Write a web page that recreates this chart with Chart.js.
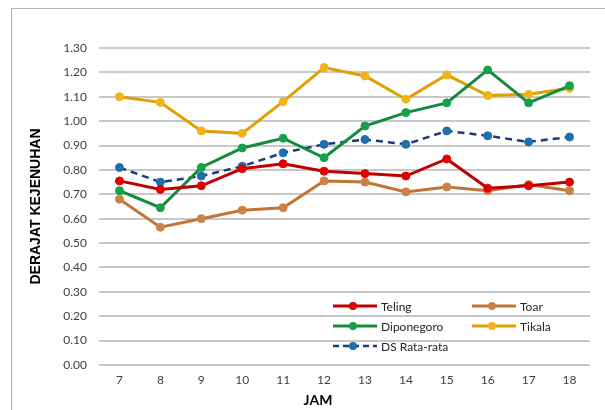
<!DOCTYPE html>
<html>
<head>
<meta charset="utf-8">
<script src="https://cdn.jsdelivr.net/npm/chart.js@4.4.1/dist/chart.umd.min.js"></script>
<style>
  html, body { margin: 0; padding: 0; background: #fff; }
  #frame { position: absolute; left: 11px; top: 8px; width: 600px; height: 420px;
           border-left: 1px solid #b4b4b4; border-top: 1px solid #b4b4b4; }
  #wrap { position: absolute; left: 0; top: 0; width: 605px; height: 410px; }
</style>
</head>
<body>
<div id="frame"></div>
<div id="wrap"><canvas id="chart" width="605" height="410"></canvas></div>
<script>
const jam = ['7', '8', '9', '10', '11', '12', '13', '14', '15', '16', '17', '18'];
const teling = [0.755, 0.72, 0.735, 0.805, 0.825, 0.795, 0.785, 0.775, 0.845, 0.725, 0.735, 0.75];
const toar = [0.68, 0.565, 0.60, 0.635, 0.645, 0.755, 0.75, 0.71, 0.73, 0.715, 0.74, 0.715];
const diponegoro = [0.715, 0.645, 0.81, 0.89, 0.93, 0.85, 0.98, 1.035, 1.075, 1.21, 1.075, 1.145];
const tikala = [1.10, 1.077, 0.96, 0.95, 1.08, 1.22, 1.185, 1.09, 1.19, 1.105, 1.11, 1.135];
const dsRata = [0.81, 0.75, 0.775, 0.815, 0.87, 0.905, 0.925, 0.905, 0.96, 0.94, 0.915, 0.935];

const TICK_FONT = { family: 'Lato, "Open Sans", sans-serif', size: 12 };

function series(label, data, line, dot, dash) {
  return {
    label: label,
    data: data,
    borderColor: line,
    backgroundColor: dot,
    pointBackgroundColor: dot,
    pointBorderColor: dot,
    pointRadius: 4,
    pointBorderWidth: 1,
    borderWidth: dash ? 2.5 : 3,
    borderDash: dash || [],
    tension: 0,
    fill: false
  };
}

// legend drawn inside the plot, two columns like the original
const insideLegend = {
  id: 'insideLegend',
  afterDraw(chart) {
    const ctx = chart.ctx;
    const slots = [[333, 306], [472, 306], [333, 326], [472, 326], [333, 346]];
    ctx.save();
    chart.data.datasets.forEach((ds, i) => {
      const [x, y] = slots[i];
      ctx.strokeStyle = ds.borderColor;
      ctx.lineWidth = ds.borderWidth;
      ctx.setLineDash(ds.borderDash.length ? [6, 4] : []);
      ctx.beginPath();
      ctx.moveTo(x, y);
      ctx.lineTo(x + 44, y);
      ctx.stroke();
      ctx.setLineDash([]);
      ctx.fillStyle = ds.pointBackgroundColor;
      ctx.beginPath();
      ctx.arc(x + 20, y, 4, 0, Math.PI * 2);
      ctx.fill();
      ctx.fillStyle = '#262626';
      ctx.font = '12px Lato, "Open Sans", sans-serif';
      ctx.textBaseline = 'middle';
      ctx.textAlign = 'left';
      ctx.fillText(ds.label, x + 48, y + 1);
    });
    // x axis title sits a little left of centre in the original
    ctx.fillStyle = '#000';
    ctx.font = 'bold 14px Lato, "Open Sans", sans-serif';
    ctx.textAlign = 'center';
    ctx.fillText('JAM', 318, 400);
    ctx.restore();
  }
};

new Chart(document.getElementById('chart'), {
  type: 'line',
  data: {
    labels: jam,
    datasets: [
      series('Teling', teling, '#c00000', '#e00000'),
      series('Toar', toar, '#bf7537', '#c9824a'),
      series('Diponegoro', diponegoro, '#138a3c', '#16a04a'),
      series('Tikala', tikala, '#e0a000', '#f2b21a'),
      series('DS Rata-rata', dsRata, '#1f3a7a', '#1f6fa8', [7, 5])
    ]
  },
  options: {
    responsive: false,
    animation: false,
    layout: { padding: { left: 20, right: 15, top: 48, bottom: 0 } },
    plugins: {
      legend: { display: false },
      tooltip: { enabled: false }
    },
    scales: {
      x: {
        offset: true,
        grid: { display: false, drawTicks: false },
        border: { display: false },
        ticks: { color: '#404040', font: TICK_FONT, padding: 8 },
        afterFit(scale) { scale.height = 45; }
      },
      y: {
        min: 0,
        max: 1.3,
        grid: { color: '#c8c8c8', lineWidth: 2, drawTicks: false },
        border: { display: false },
        ticks: {
          stepSize: 0.1,
          color: '#404040',
          font: TICK_FONT,
          padding: 12,
          callback: v => v.toFixed(2)
        },
        title: {
          display: true,
          text: 'DERAJAT KEJENUHAN',
          color: '#000',
          font: { family: '"Liberation Sans Narrow", "Liberation Sans", sans-serif', size: 14, weight: 'bold' },
          padding: { top: 8, bottom: 0 }
        },
        afterFit(scale) { scale.width = 79; }
      }
    }
  },
  plugins: [insideLegend]
});
</script>
</body>
</html>
